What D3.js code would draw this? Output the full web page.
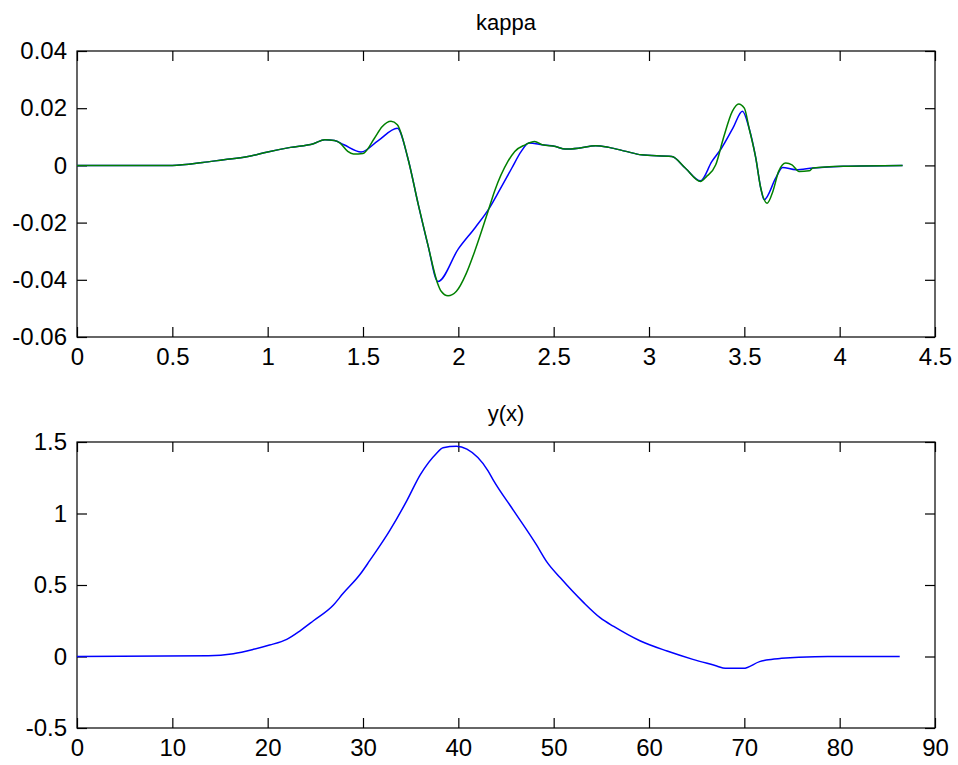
<!DOCTYPE html>
<html>
<head>
<meta charset="utf-8">
<script src="https://cdn.jsdelivr.net/npm/d3@7"></script>
<style>
  body { margin: 0; background: #fff; }
  .eje text { font-family: "Liberation Sans", Arial, sans-serif; font-size: 24px; fill: #000; }
  .eje path, .eje line { stroke: #000; stroke-width: 1.2px; }
  .titulo { font-family: "Liberation Sans", Arial, sans-serif; font-size: 22px; fill: #000; }
</style>
</head>
<body>
<div id="graf"></div>
<script>
// datos

// kappa, linea azul
kappaAzulX = [0, 0.5, 0.66, 0.77, 0.89, 1.0, 1.12, 1.24, 1.30, 1.35, 1.40, 1.49, 1.58, 1.68, 1.735, 1.79, 1.84, 1.893,
  2.00, 2.09, 2.16, 2.22, 2.28, 2.33, 2.37, 2.44, 2.51, 2.56, 2.63, 2.72, 2.79, 2.88, 2.96, 3.12, 3.19, 3.27,
  3.33, 3.38, 3.44, 3.49, 3.525, 3.56, 3.586, 3.604, 3.665, 3.70, 3.77, 3.86, 4.02, 4.33]
kappaAzulY = [0, 0, 0.001, 0.002, 0.003, 0.0047, 0.0063, 0.0076, 0.009, 0.0087, 0.0072, 0.0047, 0.0087, 0.013, 0.0026, -0.0137, -0.0277, -0.0406,
  -0.0292, -0.0216, -0.0152, -0.0082, -0.001, 0.0049, 0.0078, 0.0072, 0.0066, 0.0057, 0.006, 0.0069, 0.0063, 0.0049, 0.0037, 0.0031, -0.0009, -0.0054,
  0.0014, 0.006, 0.013, 0.0189, 0.013, 0.0026, -0.0079, -0.012, -0.0044, -0.0007, -0.0015, -0.0009, -0.0003, 0]

// kappa, linea verde
kappaVerdeX = [0, 0.5, 0.66, 0.77, 0.89, 1.0, 1.12, 1.24, 1.30, 1.35, 1.38, 1.42, 1.45, 1.50, 1.56, 1.60, 1.647, 1.68, 1.735, 1.79, 1.84,
  1.89, 1.91, 1.946, 1.99, 2.04, 2.086, 2.156, 2.19, 2.26, 2.296, 2.35, 2.40, 2.44, 2.51, 2.56, 2.63, 2.72, 2.79, 2.88, 2.96,
  3.12, 3.19, 3.27, 3.30, 3.35, 3.39, 3.437, 3.47, 3.50, 3.525, 3.56, 3.586, 3.62, 3.65, 3.68, 3.717, 3.75, 3.787, 3.84, 3.86, 4.02, 4.33]
kappaVerdeY = [0, 0, 0.001, 0.002, 0.003, 0.0047, 0.0063, 0.0076, 0.009, 0.0087, 0.0078, 0.0049, 0.004, 0.0042, 0.0095, 0.0135, 0.0154, 0.0142, 0.0026, -0.0137, -0.0277,
  -0.041, -0.044, -0.0456, -0.044, -0.038, -0.030, -0.016, -0.009, 0.0014, 0.0049, 0.0072, 0.0084, 0.0072, 0.0066, 0.0057, 0.006, 0.0069, 0.0063, 0.0049, 0.0037,
  0.0031, -0.0009, -0.0056, -0.004, 0.0002, 0.0095, 0.0189, 0.0215, 0.020, 0.013, 0.0026, -0.0079, -0.0132, -0.009, -0.0021, 0.0008, 0.0002, -0.0021, -0.0019, -0.0009, -0.0003, 0]

// y(x)
yxX = [0, 13.8, 16.4, 18.5, 20.2, 22.0, 23.4, 24.8, 26.9, 27.9, 29.7, 30.7, 32.8, 34.6, 36.0, 37.7, 38.4, 39.8,
  40.9, 43.1, 43.7, 45.8, 48.2, 49.3, 50.7, 53.1, 54.9, 56.3, 59.1, 61.9, 64.6, 67.1, 68.0, 69.9, 71.6, 72.3, 73.9, 77.4, 86.3]
yxY = [0, 0.005, 0.02, 0.05, 0.08, 0.12, 0.18, 0.25, 0.36, 0.44, 0.575, 0.67, 0.88, 1.09, 1.27, 1.42, 1.46, 1.47,
  1.45, 1.30, 1.23, 1.02, 0.78, 0.66, 0.55, 0.38, 0.27, 0.21, 0.108, 0.038, -0.02, -0.066, -0.083, -0.083, -0.036, -0.025, -0.013, -0.001, 0]

// ticks
kappaXTicks = [0, 0.5, 1, 1.5, 2, 2.5, 3, 3.5, 4, 4.5]
kappaYTicks = [-0.06, -0.04, -0.02, 0, 0.02, 0.04]
yxXTicks = [0, 10, 20, 30, 40, 50, 60, 70, 80, 90]
yxYTicks = [-0.5, 0, 0.5, 1, 1.5]

// I. Configuracion
ancho_total = 958
alto_total = 765
ancho = 858
alto = 286

svg = d3.select('#graf').append('svg')
  .attr('width', ancho_total)
  .attr('height', alto_total)

svg.append('rect')
  .attr('width', ancho_total)
  .attr('height', alto_total)
  .attr('fill', '#fff')

fmt = d => String(d)

function panel(top, titulo, xDom, yDom, xTicks, yTicks, series) {
  g = svg.append('g')
    .attr('transform', `translate(77, ${top})`)

  x = d3.scaleLinear().domain(xDom).range([0, ancho])
  y = d3.scaleLinear().domain(yDom).range([alto, 0])

  // ejes con ticks hacia dentro, en los cuatro lados
  g.append('g').attr('class', 'eje')
    .attr('transform', `translate(0, ${alto})`)
    .call(d3.axisBottom(x).tickValues(xTicks).tickFormat(fmt).tickSizeInner(-10).tickSizeOuter(0).tickPadding(11))
  g.append('g').attr('class', 'eje')
    .call(d3.axisTop(x).tickValues(xTicks).tickFormat('').tickSizeInner(-10).tickSizeOuter(0))
  g.append('g').attr('class', 'eje')
    .call(d3.axisLeft(y).tickValues(yTicks).tickFormat(fmt).tickSizeInner(-10).tickSizeOuter(0).tickPadding(10))
  g.append('g').attr('class', 'eje')
    .attr('transform', `translate(${ancho}, 0)`)
    .call(d3.axisRight(y).tickValues(yTicks).tickFormat('').tickSizeInner(-10).tickSizeOuter(0))

  g.selectAll('.eje .domain').remove()
  g.append('rect')
    .attr('width', ancho)
    .attr('height', alto)
    .attr('fill', 'none')
    .attr('stroke', '#000')
    .attr('stroke-width', 1.2)

  series.forEach(s => {
    puntos = s.xs.map((v, i) => [v, s.ys[i]])
    g.append('path')
      .datum(puntos)
      .attr('fill', 'none')
      .attr('stroke', s.color)
      .attr('stroke-width', 1.5)
      .attr('d', d3.line().x(d => x(d[0])).y(d => y(d[1])).curve(d3.curveMonotoneX))
  })

  g.append('text')
    .attr('class', 'titulo')
    .attr('x', ancho / 2)
    .attr('y', -21)
    .attr('text-anchor', 'middle')
    .text(titulo)
}

panel(51, 'kappa', [0, 4.5], [-0.06, 0.04], kappaXTicks, kappaYTicks, [
  { xs: kappaAzulX, ys: kappaAzulY, color: '#0000ff' },
  { xs: kappaVerdeX, ys: kappaVerdeY, color: '#008000' }
])

panel(442, 'y(x)', [0, 90], [-0.5, 1.5], yxXTicks, yxYTicks, [
  { xs: yxX, ys: yxY, color: '#0000ff' }
])
</script>
</body>
</html>
